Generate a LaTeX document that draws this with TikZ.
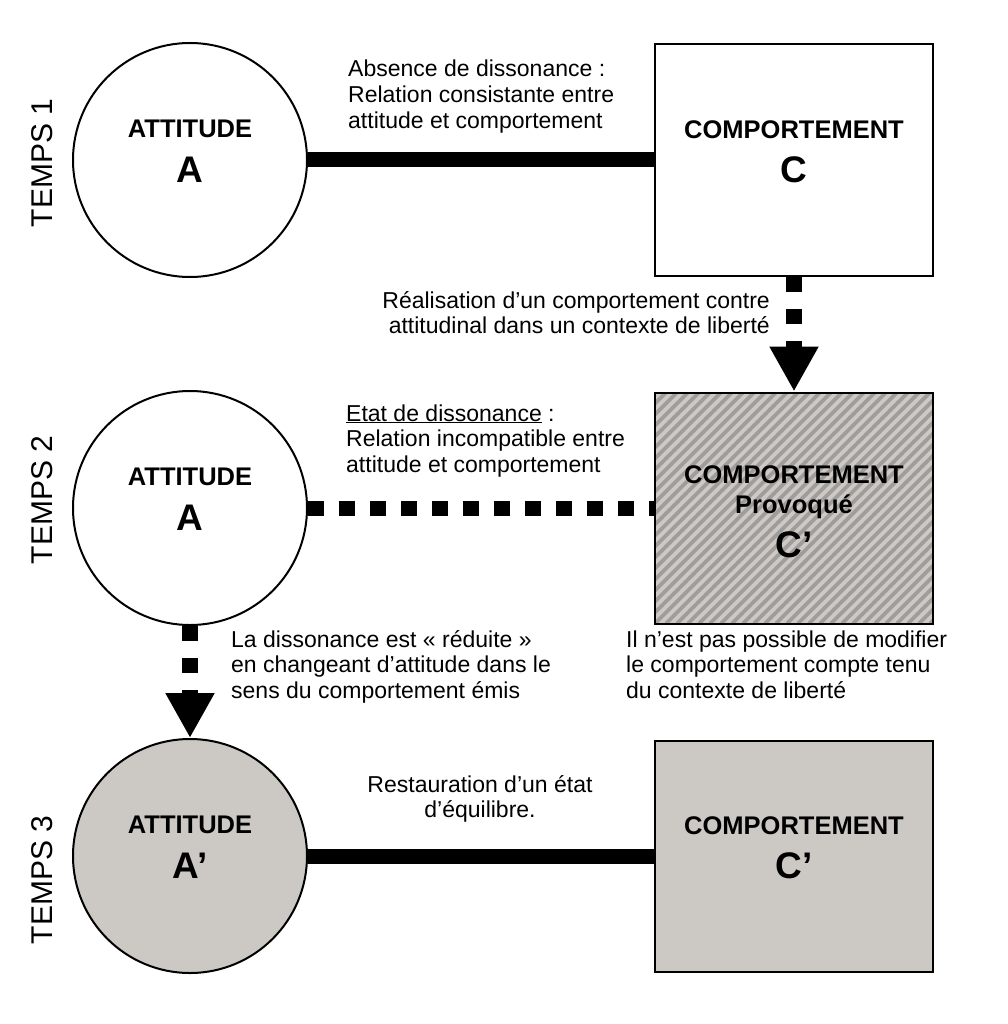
\documentclass[tikz,border=0pt]{standalone}
\usepackage{fontspec}
\setmainfont{Liberation Sans}
\usetikzlibrary{arrows.meta}
\definecolor{shadegray}{HTML}{CCC9C5}
\definecolor{hatchlight}{HTML}{CDCAC6}
\definecolor{hatchdark}{HTML}{9F9C99}
\newcommand\dgnote{\fontsize{23}{25.7}\selectfont}
\newcommand\dghead{\fontsize{25.5}{44.4}\selectfont\bfseries}
\newcommand\dgbig{\fontsize{37}{44.4}\selectfont\bfseries}
\newcommand\dgtemps{\fontsize{30}{36}\selectfont}
\begin{document}
\begin{tikzpicture}[x=1pt,y=-1pt,
  circ/.style={circle, draw, line width=2pt, minimum size=234pt, inner sep=0pt, align=center, font=\dghead},
  rect/.style={rectangle, draw, line width=2pt, minimum width=278pt, minimum height=231pt, inner sep=0pt, align=center, font=\dghead},
  hatched/.style={path picture={
      \fill[hatchlight] (path picture bounding box.south west) rectangle (path picture bounding box.north east);
      \foreach \k in {-23,...,27} {\draw[hatchdark, line width=3.6pt] ([xshift=\k*11pt]path picture bounding box.south west) -- ++(300,-300);}
  }},
  solidlink/.style={line width=15pt},
  dotlink/.style={line width=15pt, dash pattern=on 16pt off 15pt},
  dotarrow/.style={line width=16pt, dash pattern=on 15pt off 17pt, -{Triangle[width=46pt,length=45pt]}},
  note/.style={font=\dgnote, inner sep=0pt},
  temps/.style={rotate=90, font=\dgtemps, inner sep=0pt}]
\useasboundingbox[fill=white] (0,0) rectangle (1007,1024);

% Temps 1
\node[circ] (c1) at (190,160) {ATTITUDE\\{\dgbig A}\rule[-17.3pt]{0pt}{17.3pt}};
\node[rect] (b1) at (794,160) {COMPORTEMENT\\{\dgbig C}\rule[-17.3pt]{0pt}{17.3pt}};
\draw[solidlink] (c1) -- (b1);
\node[temps] (t1) at (42,163) {TEMPS 1};
\node[note, anchor=base west, align=left] (n1) at (348,128.4) {Absence de dissonance :\\Relation consistante entre\\attitude et comportement};

% Temps 2
\node[circ] (c2) at (190,508) {ATTITUDE\\{\dgbig A}\rule[-17.3pt]{0pt}{17.3pt}};
\node[rect, hatched] (b2) at (794,508) {\rule{0pt}{25pt}COMPORTEMENT\\[-14.4pt]Provoqué\\{\dgbig C’}};
\draw[dotlink] (c2) -- (b2);
\draw[dotarrow] (b1) -- (b2);
\node[temps] (t2) at (42,500) {TEMPS 2};
\node[note, anchor=base east, align=right] (n2) at (770,333.7) {Réalisation d’un comportement contre\\attitudinal dans un contexte de liberté};
\node[note, anchor=base west, align=left] (n3) at (346,472.4) {\underline{Etat de dissonance} :\\Relation incompatible entre\\attitude et comportement};
\node[note, anchor=base west, align=left] (n4) at (231,698.4) {La dissonance est «~réduite~»\\en changeant d’attitude dans le\\sens du comportement émis};
\node[note, anchor=base west, align=left] (n5) at (626,698.4) {Il n’est pas possible de modifier\\le comportement compte tenu\\du contexte de liberté};

% Temps 3
\node[circ, fill=shadegray] (c3) at (190,856) {ATTITUDE\\{\dgbig A’}\rule[-17.3pt]{0pt}{17.3pt}};
\node[rect, fill=shadegray] (b3) at (794,856) {COMPORTEMENT\\{\dgbig C’}\rule[-17.3pt]{0pt}{17.3pt}};
\draw[solidlink] (c3) -- (b3);
\draw[dotarrow] (c2) -- (c3);
\node[temps] (t3) at (42,880) {TEMPS 3};
\node[note, anchor=base, align=center] (n6) at (480,817.7) {Restauration d’un état\\d’équilibre.};
\end{tikzpicture}
\end{document}
